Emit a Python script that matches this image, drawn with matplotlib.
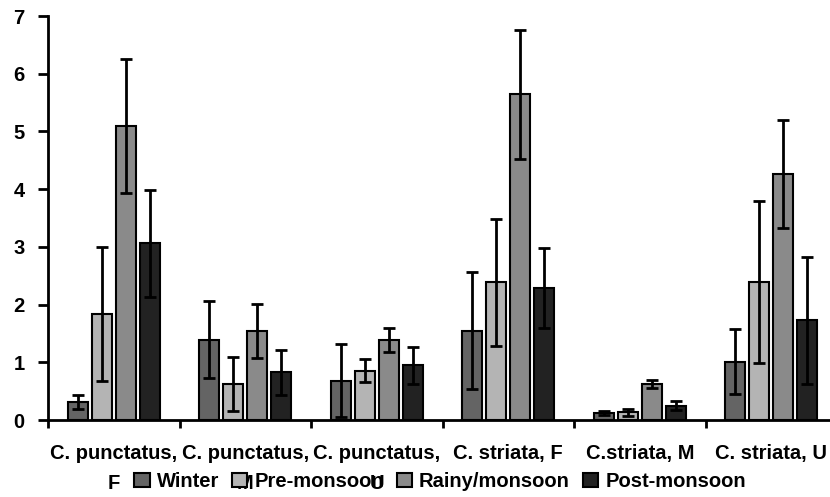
import numpy as np
from matplotlib import pyplot as plt

plt.rcParams['font.family'] = ['Liberation Sans', 'DejaVu Sans']
plt.rcParams['font.weight'] = 'bold'

categories = ["C. punctatus,\nF", "C. punctatus,\nM", "C. punctatus,\nU",
              "C. striata, F", "C.striata, M", "C. striata, U"]
seasons = ["Winter", "Pre-monsoon", "Rainy/monsoon", "Post-monsoon"]

winter = [0.31, 1.39, 0.68, 1.55, 0.12, 1.01]
winter_err = [0.12, 0.67, 0.63, 1.02, 0.04, 0.56]
pre = [1.83, 0.62, 0.85, 2.39, 0.13, 2.39]
pre_err = [1.16, 0.47, 0.20, 1.10, 0.06, 1.40]
rainy = [5.10, 1.54, 1.39, 5.64, 0.62, 4.26]
rainy_err = [1.16, 0.47, 0.21, 1.11, 0.07, 0.94]
post = [3.06, 0.83, 0.95, 2.29, 0.25, 1.73]
post_err = [0.93, 0.39, 0.32, 0.69, 0.08, 1.10]

colors = ["#646464", "#b4b4b4", "#8a8a8a", "#222222"]

fig = plt.figure(figsize=(8.3, 4.97), dpi=100)
ax = fig.add_axes([48/830, 1-420/497, 789/830, 404/497])

x = np.arange(len(categories))
w = 0.152
step = 0.183
vals = [winter, pre, rainy, post]
errs = [winter_err, pre_err, rainy_err, post_err]
for i in range(4):
    pos = x + (i - 1.5)*step
    ax.bar(pos, vals[i], w, color=colors[i], edgecolor='black', linewidth=1.5,
           label=seasons[i], zorder=2)
    ax.errorbar(pos, vals[i], yerr=errs[i], fmt='none', ecolor='black',
                elinewidth=2, capsize=4, capthick=2, zorder=3)

ax.set_xlim(-0.5, 5.5)
ax.set_ylim(0, 7)
ax.set_yticks(range(8))
ax.set_xticks(x)
ax.set_xticklabels(categories, fontsize=14.5, fontweight='bold', linespacing=1.75)
ax.set_xticks(np.arange(-0.5, 6, 1), minor=True)
ax.tick_params(axis='x', which='major', length=0, pad=17)
ax.tick_params(axis='x', which='minor', length=6, width=2, direction='out')
ax.tick_params(axis='y', length=7, width=2, labelsize=14.5, pad=10)
for lab in ax.get_yticklabels():
    lab.set_fontweight('bold')
ax.spines['top'].set_visible(False)
ax.spines['right'].set_visible(False)
ax.spines['left'].set_linewidth(2)
ax.spines['bottom'].set_linewidth(2)

ax.legend(loc='center', bbox_to_anchor=(0.497, -0.152), ncol=4, frameon=False,
          fontsize=14.5, handlelength=0.75, handleheight=0.75, handletextpad=0.35,
          columnspacing=0.65, borderaxespad=0, borderpad=0)

plt.savefig("out.png", dpi=100)
